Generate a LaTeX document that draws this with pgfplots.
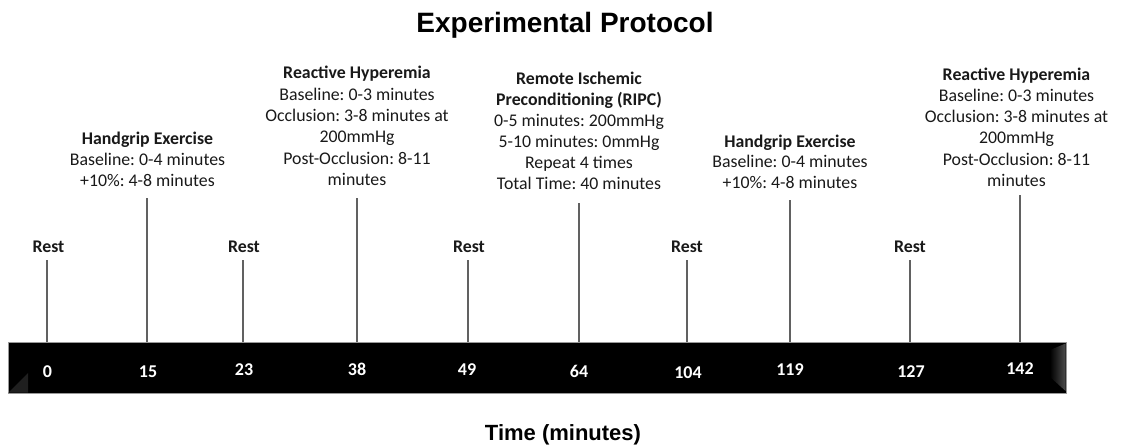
\documentclass[border=0pt]{standalone}
\usepackage{pgfplots}
\pgfplotsset{compat=1.18}
\usepackage{fontspec}
\setmainfont{Carlito}
\newfontfamily\arialfont{Liberation Sans}
\frenchspacing
\begin{document}
\begin{tikzpicture}
\tikzset{lab/.style={anchor=base,inner sep=0pt,text=black!90,font=\fontsize{17.8bp}{21bp}\selectfont},
         blab/.style={lab,font=\bfseries\fontsize{17.8bp}{21bp}\selectfont},
         num/.style={anchor=base,inner sep=0pt,text=white,font=\bfseries\fontsize{18bp}{21bp}\selectfont}}
\begin{axis}[width=1121bp,height=447bp,scale only axis,
  xmin=0,xmax=1121,ymin=0,ymax=447,hide axis,clip=false]
\path (axis cs:0,0) rectangle (axis cs:1121,447);
% timeline bar
\addplot[fill=black,draw=black!40,line width=0.6bp] coordinates {(8,54) (1066,54) (1066,105) (8,105)} -- cycle;
\shade[left color=black,right color=black!70] (axis cs:1050,70) -- (axis cs:1065.6,56) -- (axis cs:1065.6,103.5) -- (axis cs:1050,97) -- cycle;
\fill[black!88] (axis cs:8.4,54.4) -- (axis cs:28,74) -- (axis cs:28,54.4) -- cycle;
% vertical markers
\addplot[draw=black!62,line width=1.2bp] coordinates {(47,105) (47,187)};
\addplot[draw=black!62,line width=1.2bp] coordinates {(147,105) (147,249)};
\addplot[draw=black!62,line width=1.2bp] coordinates {(243,105) (243,187)};
\addplot[draw=black!62,line width=1.2bp] coordinates {(357,105) (357,249)};
\addplot[draw=black!62,line width=1.2bp] coordinates {(468,105) (468,187)};
\addplot[draw=black!62,line width=1.2bp] coordinates {(579,105) (579,244)};
\addplot[draw=black!62,line width=1.2bp] coordinates {(687,105) (687,187)};
\addplot[draw=black!62,line width=1.2bp] coordinates {(790,105) (790,247)};
\addplot[draw=black!62,line width=1.2bp] coordinates {(910,105) (910,187)};
\addplot[draw=black!62,line width=1.2bp] coordinates {(1020,105) (1020,252)};
% time labels in bar
\node[num] at (axis cs:47.5,70) {0};
\node[num] at (axis cs:148,70) {15};
\node[num] at (axis cs:244,72) {23};
\node[num] at (axis cs:357,72) {38};
\node[num] at (axis cs:467,72) {49};
\node[num] at (axis cs:579,70) {64};
\node[num] at (axis cs:688,69) {104};
\node[num] at (axis cs:790,72) {119};
\node[num] at (axis cs:911,70) {127};
\node[num] at (axis cs:1020,73) {142};
% Rest labels
\node[blab] at (axis cs:48.5,194) {Rest};
\node[blab] at (axis cs:244,194) {Rest};
\node[blab] at (axis cs:469,194) {Rest};
\node[blab] at (axis cs:687,194) {Rest};
\node[blab] at (axis cs:910,194) {Rest};
% Handgrip 1
\node[blab] at (axis cs:147.5,302) {Handgrip Exercise};
\node[lab] at (axis cs:147.5,281) {Baseline: 0-4 minutes};
\node[lab] at (axis cs:147.5,260) {+10\%: 4-8 minutes};
% Reactive Hyperemia 1
\node[blab] at (axis cs:357,368) {Reactive Hyperemia};
\node[lab] at (axis cs:357,346) {Baseline: 0-3 minutes};
\node[lab] at (axis cs:357,325) {Occlusion: 3-8 minutes at};
\node[lab] at (axis cs:357,304) {200mmHg};
\node[lab] at (axis cs:357,282) {Post-Occlusion: 8-11};
\node[lab] at (axis cs:357,261) {minutes};
% RIPC
\node[blab] at (axis cs:579,362) {Remote Ischemic};
\node[blab] at (axis cs:579,341) {Preconditioning (RIPC)};
\node[lab] at (axis cs:579,320) {0-5 minutes: 200mmHg};
\node[lab] at (axis cs:579,299) {5-10 minutes: 0mmHg};
\node[lab] at (axis cs:579,278) {Repeat 4 times};
\node[lab] at (axis cs:579,257) {Total Time: 40 minutes};
% Handgrip 2
\node[blab] at (axis cs:790,299) {Handgrip Exercise};
\node[lab] at (axis cs:790,279) {Baseline: 0-4 minutes};
\node[lab] at (axis cs:790,258) {+10\%: 4-8 minutes};
% Reactive Hyperemia 2
\node[blab] at (axis cs:1016.5,366) {Reactive Hyperemia};
\node[lab] at (axis cs:1016.5,345) {Baseline: 0-3 minutes};
\node[lab] at (axis cs:1016.5,324) {Occlusion: 3-8 minutes at};
\node[lab] at (axis cs:1016.5,303) {200mmHg};
\node[lab] at (axis cs:1016.5,281) {Post-Occlusion: 8-11};
\node[lab] at (axis cs:1016.5,260) {minutes};
% titles
\node[anchor=base,inner sep=0pt,font=\arialfont\bfseries\fontsize{28bp}{32bp}\selectfont] at (axis cs:565,414) {Experimental Protocol};
\node[anchor=base,inner sep=0pt,font=\arialfont\bfseries\fontsize{22bp}{26bp}\selectfont] at (axis cs:563,7) {Time (minutes)};
\end{axis}
\end{tikzpicture}
\end{document}
